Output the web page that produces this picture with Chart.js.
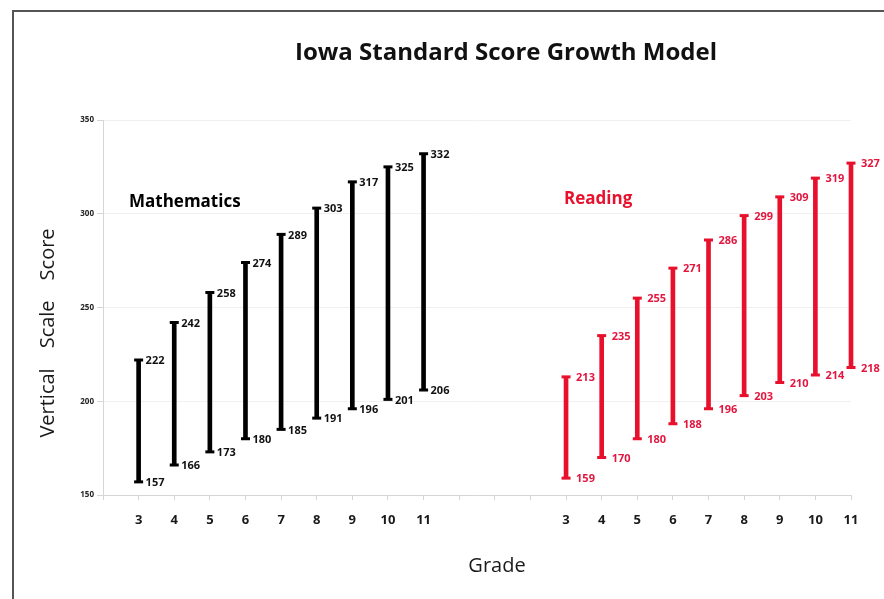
<!DOCTYPE html>
<html>
<head>
<meta charset="utf-8">
<script src="https://cdn.jsdelivr.net/npm/chart.js@4"></script>
<style>
  html, body { margin: 0; padding: 0; background: #fff; }
  #wrap { width: 884px; height: 599px; position: relative; }
</style>
</head>
<body>
<div id="wrap"><canvas id="growthChart" width="884" height="599"></canvas></div>
<script>
// Grades shown on each half of the chart
const grades = ['3', '4', '5', '6', '7', '8', '9', '10', '11'];

// Mathematics range (low / high scale score per grade)
const mathLow = [157, 166, 173, 180, 185, 191, 196, 201, 206];
const mathHigh = [222, 242, 258, 274, 289, 303, 317, 325, 332];

// Reading range
const readLow = [159, 170, 180, 188, 196, 203, 210, 214, 218];
const readHigh = [213, 235, 255, 271, 286, 299, 309, 319, 327];

const yTicks = [150, 200, 250, 300, 350];

const BLACK = '#000000';
const RED = '#e8112d';
const FONT = "'Open Sans', 'DejaVu Sans', sans-serif";

// x axis: one empty slot at the start, three empty slots between the two groups
const lead = [''];
const gap = ['', '', ''];
const labels = [...lead, ...grades, ...gap, ...grades];

function mathSlot(arr) {
    return [null, ...arr, ...gap.map(() => null), ...grades.map(() => null)];
}
function readSlot(arr) {
    return [null, ...grades.map(() => null), ...gap.map(() => null), ...arr];
}

const mathRanges = mathSlot(mathLow.map((v, i) => [v, mathHigh[i]]));
const readRanges = readSlot(readLow.map((v, i) => [v, readHigh[i]]));

function capDataset(data, color) {
    return {
        type: 'line',
        data: data,
        showLine: false,
        pointStyle: 'line',
        pointRadius: 4.5,
        pointHoverRadius: 4.5,
        borderWidth: 3,
        borderColor: color,
        backgroundColor: color,
        clip: false,
        isCap: true
    };
}

// Chrome: frame, title, axis titles, panel labels
const decorPlugin = {
    id: 'decor',
    beforeDraw(chart) {
        const ctx = chart.ctx;
        ctx.save();
        ctx.strokeStyle = '#555555';
        ctx.lineWidth = 2;
        ctx.beginPath();
        ctx.moveTo(13, 599);
        ctx.lineTo(13, 11);
        ctx.lineTo(884, 11);
        ctx.stroke();
        ctx.restore();
    },
    afterDraw(chart) {
        const ctx = chart.ctx;
        ctx.save();
        ctx.fillStyle = '#111111';
        ctx.textAlign = 'center';
        ctx.textBaseline = 'middle';
        ctx.font = "bold 24px " + FONT;
        ctx.fillText('Iowa Standard Score Growth Model', 506, 53);

        ctx.font = "20px " + FONT;
        ctx.fillStyle = '#1a1a1a';
        ctx.fillText('Grade', 497, 566);

        ctx.translate(48, 333);
        ctx.rotate(-Math.PI / 2);
        ctx.fillText('Vertical\u2003Scale\u2003Score', 0, 0);
        ctx.restore();

        ctx.save();
        ctx.textBaseline = 'middle';
        ctx.textAlign = 'left';
        ctx.font = "bold 17px " + FONT;
        ctx.fillStyle = BLACK;
        ctx.fillText('Mathematics', 129, 202);
        ctx.fillStyle = RED;
        ctx.fillText('Reading', 564, 199);
        ctx.restore();
    }
};

// Value labels beside each cap
const valueLabelPlugin = {
    id: 'valueLabels',
    afterDatasetsDraw(chart) {
        const ctx = chart.ctx;
        ctx.save();
        ctx.font = "bold 11px " + FONT;
        ctx.textAlign = 'left';
        ctx.textBaseline = 'middle';
        chart.data.datasets.forEach((ds, di) => {
            if (!ds.isCap) return;
            const meta = chart.getDatasetMeta(di);
            ctx.fillStyle = ds.borderColor === RED ? '#e2163f' : '#111111';
            const dx = ds.borderColor === RED ? 10 : 7;
            meta.data.forEach((pt, i) => {
                const v = ds.data[i];
                if (v === null || v === undefined) return;
                ctx.fillText(String(v), pt.x + dx, pt.y + 1);
            });
        });
        ctx.restore();
    }
};

const ctx = document.getElementById('growthChart').getContext('2d');

new Chart(ctx, {
    type: 'bar',
    data: {
        labels: labels,
        datasets: [
            {
                data: mathRanges,
                backgroundColor: BLACK,
                barThickness: 4,
                clip: false
            },
            {
                data: readRanges,
                backgroundColor: RED,
                barThickness: 4,
                clip: false
            },
            capDataset(mathSlot(mathHigh), BLACK),
            capDataset(mathSlot(mathLow), BLACK),
            capDataset(readSlot(readHigh), RED),
            capDataset(readSlot(readLow), RED)
        ]
    },
    options: {
        responsive: false,
        animation: false,
        layout: {
            padding: { top: 120, right: 33, bottom: 0, left: 0 }
        },
        datasets: {
            bar: { grouped: false }
        },
        plugins: {
            legend: { display: false },
            tooltip: { enabled: false },
            title: { display: false }
        },
        scales: {
            x: {
                offset: false,
                grid: {
                    offset: false,
                    drawOnChartArea: false,
                    drawTicks: true,
                    tickLength: 5,
                    color: '#d6d6d6'
                },
                border: { color: '#d6d6d6' },
                ticks: {
                    autoSkip: false,
                    maxRotation: 0,
                    padding: 12,
                    color: '#1a1a1a',
                    font: { family: FONT, size: 13, weight: 'bold' }
                },
                afterFit(scale) {
                    scale.height = 104;
                }
            },
            y: {
                min: 150,
                max: 350,
                afterBuildTicks(scale) {
                    scale.ticks = yTicks.map(v => ({ value: v }));
                },
                grid: {
                    color: '#f0f0f0',
                    tickLength: 6,
                    tickColor: '#d6d6d6'
                },
                border: { color: '#d6d6d6' },
                ticks: {
                    padding: 3,
                    color: '#222222',
                    font: { family: FONT, size: 8, weight: 'bold' }
                },
                afterFit(scale) {
                    scale.width = 103;
                }
            }
        }
    },
    plugins: [decorPlugin, valueLabelPlugin]
});
</script>
</body>
</html>
